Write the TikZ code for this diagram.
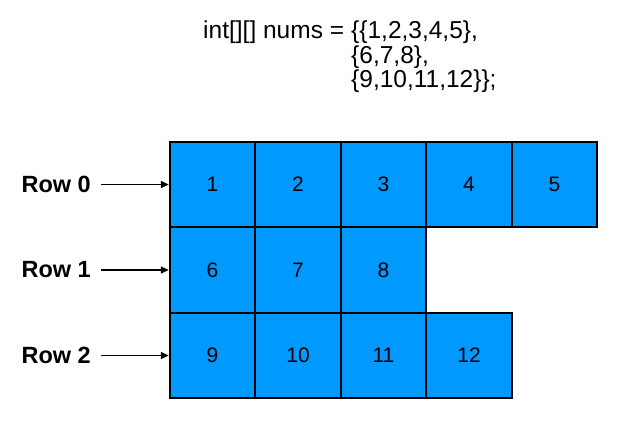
\documentclass[tikz,border=0pt]{standalone}
\usepackage{fontspec}
\setmainfont{Liberation Sans}
\usepackage{xcolor}
\usepackage{tikz}
\usetikzlibrary{arrows.meta,positioning}

\definecolor{cellblue}{HTML}{0099FF}

\begin{document}
\begin{tikzpicture}[
    x=1pt, y=-1pt,
    cell/.style={rectangle, draw=black, line width=2pt, fill=cellblue, minimum width=85.5pt, minimum height=85.5pt, inner sep=0pt, font=\fontsize{21}{24}\selectfont},
    rowlabel/.style={font=\fontsize{23.5}{27}\selectfont\bfseries, inner sep=0pt},
    code/.style={font=\fontsize{24.5}{28}\selectfont, inner sep=0pt},
    arrow/.style={-{Triangle[length=8pt,width=7pt]}, line width=1.5pt}
]

% Canvas
\useasboundingbox (0, 0) rectangle (629, 446);

% Declaration
\node[code, anchor=base west] (decl) at (203, 39) {int[][] nums =};
\node[code, anchor=base west] (line0) at (351, 39) {\{\{1,2,3,4,5\},};
\node[code, anchor=base west] (line1) at (351, 63.5) {\{6,7,8\},};
\node[code, anchor=base west] (line2) at (351, 88) {\{9,10,11,12\}\};};

% Row 0
\node[cell] (c0) at (212.5, 184.5) {1};
\node[cell] (c1) at (298, 184.5) {2};
\node[cell] (c2) at (383.5, 184.5) {3};
\node[cell] (c3) at (469, 184.5) {4};
\node[cell] (c4) at (554.5, 184.5) {5};

% Row 1
\node[cell] (c5) at (212.5, 270) {6};
\node[cell] (c6) at (298, 270) {7};
\node[cell] (c7) at (383.5, 270) {8};

% Row 2
\node[cell] (c8) at (212.5, 355.5) {9};
\node[cell] (c9) at (298, 355.5) {10};
\node[cell] (c10) at (383.5, 355.5) {11};
\node[cell] (c11) at (469, 355.5) {12};

% Row labels
\node[rowlabel, anchor=east] (r0) at (91, 184.5) {Row 0};
\node[rowlabel, anchor=east] (r1) at (91, 270) {Row 1};
\node[rowlabel, anchor=east] (r2) at (91, 355.5) {Row 2};

% Arrows from labels to rows
\draw[arrow, shorten <=10pt] (r0.east) -- (c0.west);
\draw[arrow, shorten <=10pt] (r1.east) -- (c5.west);
\draw[arrow, shorten <=10pt] (r2.east) -- (c8.west);

\end{tikzpicture}
\end{document}
